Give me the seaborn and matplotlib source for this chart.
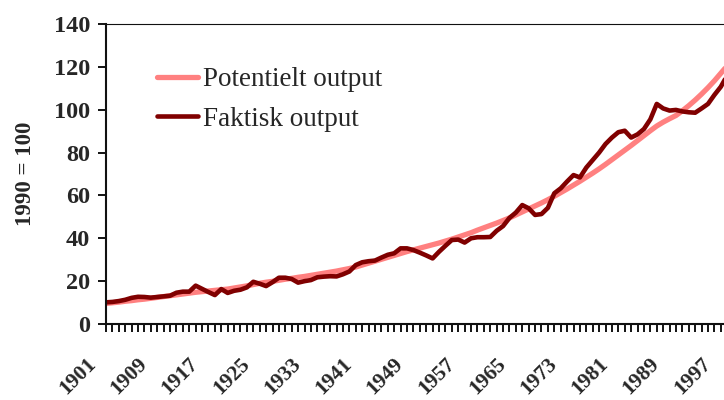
import matplotlib
matplotlib.use("Agg")
import matplotlib.pyplot as plt
import matplotlib.transforms as mtransforms
from matplotlib.ticker import MultipleLocator
import pandas as pd
import seaborn as sns


# Data (index, 1990 = 100)
years = list(range(1901, 1999))

potentielt = [
    9.6, 9.9, 10.2, 10.6, 10.9, 11.3, 11.6, 12.0, 12.4, 12.8,
    13.2, 13.6, 14.0, 14.4, 14.8, 15.1, 15.4, 15.7, 16.0, 16.3,
    16.8, 17.3, 17.8, 18.4, 19.0, 19.5, 19.9, 20.4, 20.9, 21.3,
    21.8, 22.2, 22.7, 23.2, 23.7, 24.2, 24.7, 25.3, 25.9, 26.6,
    27.5, 28.4, 29.3, 30.2, 31.1, 32.0, 32.9, 33.8, 34.6, 35.4,
    36.2, 37.0, 37.8, 38.7, 39.6, 40.6, 41.6, 42.6, 43.8, 44.9,
    46.0, 47.1, 48.3, 49.5, 50.9, 52.3, 53.7, 55.1, 56.5, 58.0,
    59.6, 61.3, 63.0, 64.8, 66.6, 68.5, 70.4, 72.4, 74.5, 76.7,
    78.9, 81.1, 83.3, 85.6, 87.9, 90.2, 92.4, 94.2, 95.8, 97.3,
    99.5, 101.9, 104.5, 107.3, 110.3, 113.5, 117.0, 120.5,
]

faktisk = [
    10.1, 10.3, 10.7, 11.3, 12.2, 12.7, 12.6, 12.3, 12.6, 12.9,
    13.2, 14.6, 15.1, 15.1, 17.9, 16.4, 14.9, 13.5, 16.3, 14.5,
    15.5, 16.0, 17.1, 19.7, 18.8, 17.7, 19.5, 21.6, 21.6, 21.0,
    19.3, 20.0, 20.5, 21.8, 22.1, 22.3, 22.2, 23.2, 24.5, 27.5,
    28.8, 29.3, 29.6, 31.0, 32.3, 33.0, 35.3, 35.3, 34.5, 33.3,
    32.0, 30.6, 33.7, 36.5, 39.2, 39.4, 38.0, 40.0, 40.5, 40.5,
    40.6, 43.5, 45.7, 49.5, 52.0, 55.5, 54.0, 50.9, 51.3, 54.2,
    61.0, 63.3, 66.5, 69.5, 68.4, 73.0, 76.5, 80.0, 84.0, 87.0,
    89.5, 90.2, 87.0, 88.5, 91.0, 95.5, 102.7, 100.6, 99.6, 99.9,
    99.2, 98.8, 98.6, 100.6, 102.7, 106.9, 110.7, 116.0,
]

label_years = list(range(1901, 1998, 8))
y_ticks = list(range(0, 141, 20))

df_pot = pd.DataFrame({"year": years, "value": potentielt})
df_fak = pd.DataFrame({"year": years, "value": faktisk})


sns.set_style("ticks")
plt.rcParams["font.family"] = ["Liberation Serif", "DejaVu Serif"]

fig = plt.figure(figsize=(7.24, 4.0), dpi=100)
ax = fig.add_axes([106 / 724, 76 / 400, 618 / 724, 300 / 400])

sns.lineplot(data=df_pot, x="year", y="value", color="#ff8080",
             linewidth=3.8, label="Potentielt output", ax=ax)
sns.lineplot(data=df_fak, x="year", y="value", color="#800000",
             linewidth=3.3, label="Faktisk output", ax=ax)

ax.set_xlim(1901, 1997.5)
ax.set_ylim(0, 140)

# y axis
ax.set_yticks(y_ticks)
ax.set_yticklabels([str(v) for v in y_ticks], fontweight="bold")
ax.set_ylabel("1990 = 100", fontsize=16.5, fontweight="bold")
ax.yaxis.set_label_coords(-0.113, 0.5)

# x axis: a tick every year, a label every 8 years
ax.set_xticks(label_years)
ax.xaxis.set_minor_locator(MultipleLocator(1))
ax.set_xticklabels([str(y) for y in label_years], rotation=45, ha="right",
                   va="center", rotation_mode="anchor", fontweight="bold")
ax.set_xlabel("")

# tick styling last
ax.tick_params(axis="y", which="major", left=True, length=6, width=1.3,
               color="black", pad=5.5, labelsize=17.5)
ax.tick_params(axis="x", which="both", bottom=True, length=5.5, width=1.3,
               color="black")
ax.tick_params(axis="x", which="major", pad=21, labelsize=15.5)
shift = mtransforms.ScaledTranslation(-13 / 100, 0, fig.dpi_scale_trans)
for lab in ax.get_xticklabels():
    lab.set_transform(lab.get_transform() + shift)

for side in ["left", "bottom"]:
    ax.spines[side].set_linewidth(1.5)
    ax.spines[side].set_color("#111111")
ax.spines["top"].set_visible(True)
ax.spines["top"].set_linewidth(0.8)
ax.spines["top"].set_color("#111111")
ax.spines["right"].set_visible(False)

leg = ax.legend(loc="upper left", bbox_to_anchor=(157 / 724, 333 / 400),
                bbox_transform=fig.transFigure, frameon=False, fontsize=19.5,
                handlelength=1.5, handletextpad=0.2, labelspacing=0.55,
                borderpad=0, borderaxespad=0)

fig.savefig("out.png", dpi=100, facecolor="white")
